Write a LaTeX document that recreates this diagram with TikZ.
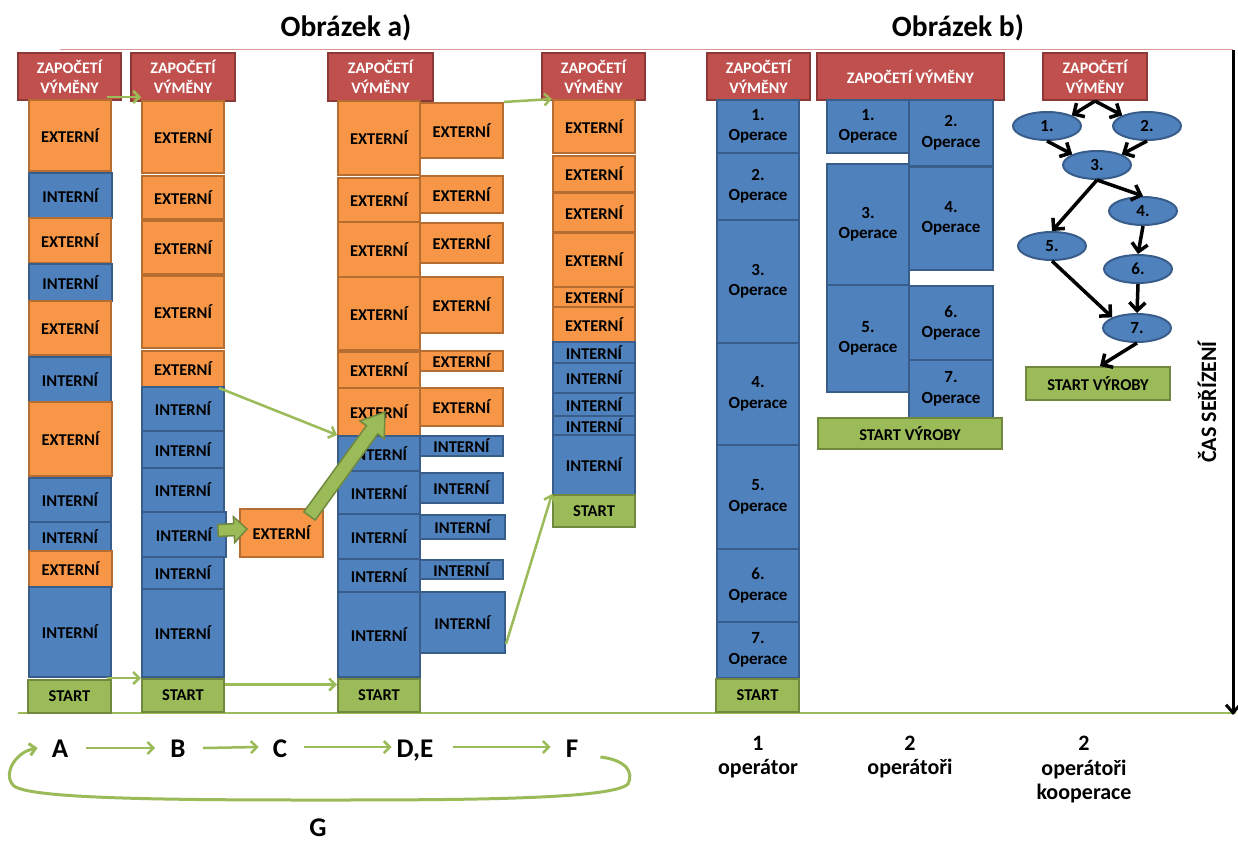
\documentclass[tikz,border=0pt]{standalone}
\usepackage{fontspec}
\setmainfont{Carlito}
\usetikzlibrary{arrows.meta,shapes.geometric,calc}
\definecolor{orgF}{HTML}{F79646}
\definecolor{orgD}{HTML}{B66D31}
\definecolor{bluF}{HTML}{4F81BD}
\definecolor{bluD}{HTML}{385D8A}
\definecolor{redF}{HTML}{C0504D}
\definecolor{redD}{HTML}{8C3836}
\definecolor{grnF}{HTML}{9BBB59}
\definecolor{grnD}{HTML}{71893F}
\definecolor{redL}{HTML}{D99694}
\newcommand\lbf{\fontsize{16.5}{19}\selectfont\bfseries}
\newcommand\rbf{\fontsize{16}{20}\selectfont\bfseries}
\newcommand\obf{\fontsize{17}{20.5}\selectfont\bfseries}
\newcommand\bx[7]{\node[#2,minimum width={(#5)-(#3)},minimum height={(#6)-(#4)}] (#1) at ({((#3)+(#5))/2},{((#4)+(#6))/2}) {#7};}
\newcommand\blockarr[5]{%
  \coordinate (tmpH) at ($(#2)!#5!(#1)$);
  \path[blockarrow] ($(#1)!#3!90:(#2)$) -- ($(tmpH)!#3!90:(#2)$) -- ($(tmpH)!#4!90:(#2)$) -- (#2) -- ($(tmpH)!#4!-90:(#2)$) -- ($(tmpH)!#3!-90:(#2)$) -- ($(#1)!#3!-90:(#2)$) -- cycle;}
\begin{document}
\begin{tikzpicture}[x=1pt,y=-1pt,
 basebox/.style={rectangle,inner sep=0pt,line width=2pt,align=center,font=\lbf},
 extb/.style={basebox,fill=orgF,draw=orgD},
 intb/.style={basebox,fill=bluF,draw=bluD},
 redb/.style={basebox,fill=redF,draw=redD,text=white,font=\rbf},
 grnb/.style={basebox,fill=grnF,draw=grnD},
 opb/.style={basebox,fill=bluF,draw=bluD,font=\obf},
 ellb/.style={ellipse,fill=bluF,draw=bluD,line width=2pt,minimum width=68pt,minimum height=28pt,inner sep=0pt,font=\obf},
 garrow/.style={draw=grnF,line width=2.5pt,-{Straight Barb[length=6pt,width=12pt]}},
 karrow/.style={draw=black,line width=3.5pt,-{Straight Barb[length=8pt,width=16pt]}},
 blockarrow/.style={fill=grnF,draw=grnD,line width=1.5pt,line join=miter},
 lbl/.style={inner sep=0pt,anchor=base,font=\fontsize{27}{30}\selectfont\bfseries},
 olbl/.style={inner sep=0pt,align=center,font=\fontsize{22}{24.5}\selectfont\bfseries},
 ttl/.style={inner sep=0pt,font=\fontsize{29.5}{32}\selectfont\bfseries}
]
\useasboundingbox (0,0) rectangle (1238,843);
% frame lines
\coordinate (tl) at (60,50);
\coordinate (tr) at (1233,50);
\coordinate (bl) at (18,713);
\coordinate (br) at (1236,713);
\draw[redL,line width=1pt] (tl) -- (tr);
\draw[grnF,line width=1.5pt] (bl) -- (br);
% titles
\node[ttl] (ta) at (346,28) {Obrázek a)};
\node[ttl] (tb) at (958,28) {Obrázek b)};
% column A
\bx{a0}{redb}{18}{53}{121}{100}{ZAPOČETÍ\\VÝMĚNY}
\bx{a1}{extb}{29}{100}{111}{171}{EXTERNÍ}
\bx{a2}{intb}{29}{173}{112}{218}{INTERNÍ}
\bx{a3}{extb}{29}{218}{111}{263}{EXTERNÍ}
\bx{a4}{intb}{29}{264}{112}{301}{INTERNÍ}
\bx{a5}{extb}{29}{301}{111}{355}{EXTERNÍ}
\bx{a6}{intb}{29}{357}{111}{402}{INTERNÍ}
\bx{a7}{extb}{29}{402}{112}{476}{EXTERNÍ}
\bx{a8}{intb}{29}{478}{111}{522}{INTERNÍ}
\bx{a9}{intb}{29}{522}{111}{551}{INTERNÍ}
\bx{a10}{extb}{29}{551}{112}{587}{EXTERNÍ}
\bx{a11}{intb}{29}{587}{111}{677}{INTERNÍ}
\bx{a12}{grnb}{28}{680}{111}{713}{START}
% column B
\bx{b0}{redb}{131}{53}{235}{101}{ZAPOČETÍ\\VÝMĚNY}
\bx{b1}{extb}{142}{101}{224}{173}{EXTERNÍ}
\bx{b2}{extb}{142}{176}{224}{219}{EXTERNÍ}
\bx{b3}{extb}{142}{221}{224}{274}{EXTERNÍ}
\bx{b4}{extb}{142}{276}{224}{348}{EXTERNÍ}
\bx{b5}{extb}{142}{351}{224}{387}{EXTERNÍ}
\bx{b6}{intb}{142}{387}{224}{431}{INTERNÍ}
\bx{b7}{intb}{142}{431}{224}{468}{INTERNÍ}
\bx{b8}{intb}{142}{468}{224}{512}{INTERNÍ}
\bx{b9}{intb}{142}{512}{226}{557}{INTERNÍ}
\bx{b10}{intb}{142}{557}{224}{589}{INTERNÍ}
\bx{b11}{intb}{142}{589}{224}{677}{INTERNÍ}
\bx{b12}{grnb}{142}{679}{224}{712}{START}
% column C
\bx{c1}{extb}{240}{509}{323}{557}{EXTERNÍ}
% column D left
\bx{d0}{redb}{328}{53}{433}{101}{ZAPOČETÍ\\VÝMĚNY}
\bx{d1}{extb}{338}{101}{420}{175}{EXTERNÍ}
\bx{d2}{extb}{338}{178}{420}{222}{EXTERNÍ}
\bx{d3}{extb}{338}{222}{420}{277}{EXTERNÍ}
\bx{d4}{extb}{338}{277}{420}{350}{EXTERNÍ}
\bx{d5}{extb}{338}{352}{420}{388}{EXTERNÍ}
\bx{d6}{extb}{338}{388}{420}{436}{EXTERNÍ}
\bx{d7}{intb}{338}{436}{420}{471}{INTERNÍ}
\bx{d8}{intb}{338}{471}{420}{514}{INTERNÍ}
\bx{d9}{intb}{338}{514}{420}{559}{INTERNÍ}
\bx{d10}{intb}{338}{559}{420}{592}{INTERNÍ}
\bx{d11}{intb}{338}{592}{420}{677}{INTERNÍ}
\bx{d12}{grnb}{338}{679}{420}{712}{START}
% column D right
\bx{e1}{extb}{420}{103}{503}{158}{EXTERNÍ}
\bx{e2}{extb}{420}{176}{503}{213}{EXTERNÍ}
\bx{e3}{extb}{420}{223}{503}{263}{EXTERNÍ}
\bx{e4}{extb}{420}{277}{503}{333}{EXTERNÍ}
\bx{e5}{extb}{420}{351}{503}{371}{EXTERNÍ}
\bx{e6}{extb}{420}{388}{503}{426}{EXTERNÍ}
\bx{e7}{intb}{420}{436}{503}{456}{INTERNÍ}
\bx{e8}{intb}{420}{473}{503}{503}{INTERNÍ}
\bx{e9}{intb}{420}{515}{505}{539}{INTERNÍ}
\bx{e10}{intb}{420}{560}{503}{579}{INTERNÍ}
\bx{e11}{intb}{420}{592}{505}{653}{INTERNÍ}
% column F
\bx{f0}{redb}{542}{53}{645}{100}{ZAPOČETÍ\\VÝMĚNY}
\bx{f1}{extb}{553}{100}{635}{153}{EXTERNÍ}
\bx{f2}{extb}{553}{156}{635}{192}{EXTERNÍ}
\bx{f3}{extb}{553}{193}{635}{232}{EXTERNÍ}
\bx{f4}{extb}{553}{233}{635}{287}{EXTERNÍ}
\bx{f5}{extb}{553}{287}{635}{307}{EXTERNÍ}
\bx{f6}{extb}{553}{307}{635}{342}{EXTERNÍ}
\bx{f7}{intb}{553}{342}{635}{363}{INTERNÍ}
\bx{f8}{intb}{553}{363}{635}{393}{INTERNÍ}
\bx{f9}{intb}{553}{393}{635}{416}{INTERNÍ}
\bx{f10}{intb}{553}{416}{635}{435}{INTERNÍ}
\bx{f11}{intb}{553}{435}{635}{495}{INTERNÍ}
\bx{f12}{grnb}{553}{495}{635}{527}{START}
% panel b, 1 operator
\bx{p0}{redb}{707}{53}{810}{100}{ZAPOČETÍ\\VÝMĚNY}
\bx{p1}{opb}{717}{100}{799}{153}{1.\\Operace}
\bx{p2}{opb}{717}{153}{799}{220}{2.\\Operace}
\bx{p3}{opb}{717}{220}{799}{343}{3.\\Operace}
\bx{p4}{opb}{717}{343}{799}{445}{4.\\Operace}
\bx{p5}{opb}{717}{445}{799}{549}{5.\\Operace}
\bx{p6}{opb}{717}{549}{799}{622}{6.\\Operace}
\bx{p7}{opb}{717}{622}{799}{678}{7.\\Operace}
\bx{p8}{grnb}{716}{679}{799}{712}{START}
% panel b, 2 operators
\bx{q0}{redb}{817}{53}{1004}{100}{ZAPOČETÍ VÝMĚNY}
\bx{q1}{opb}{827}{100}{909}{153}{1.\\Operace}
\bx{q2}{opb}{909}{100}{993}{166}{2.\\Operace}
\bx{q3}{opb}{827}{164}{909}{285}{3.\\Operace}
\bx{q4}{opb}{909}{167}{993}{270}{4.\\Operace}
\bx{q5}{opb}{827}{285}{909}{392}{5.\\Operace}
\bx{q6}{opb}{909}{286}{993}{360}{6.\\Operace}
\bx{q7}{opb}{909}{360}{993}{418}{7.\\Operace}
\bx{q8}{grnb}{818}{418}{1002}{449}{START VÝROBY}
% panel b, cooperation graph
\bx{r0}{redb}{1043}{53}{1147}{100}{ZAPOČETÍ\\VÝMĚNY}
\node[ellb] (o1) at (1047,126) {1.};
\node[ellb] (o2) at (1147,126) {2.};
\node[ellb] (o3) at (1097,165) {3.};
\node[ellb] (o4) at (1143,211) {4.};
\node[ellb] (o5) at (1052,246) {5.};
\node[ellb] (o6) at (1138,269) {6.};
\node[ellb] (o7) at (1137,328) {7.};
\bx{r8}{grnb}{1026}{367}{1170}{400}{START VÝROBY}
\draw[karrow] (r0.south) -- (o1.north east);
\draw[karrow] (r0.south) -- (o2.north west);
\draw[karrow] (o1.south) -- (o3.north west);
\draw[karrow] (o2.south) -- (o3.north east);
\draw[karrow] (o3.south) -- (o5.north);
\draw[karrow] (o3.south) -- (o4.north);
\draw[karrow] (o4.south) -- (o6.north);
\draw[karrow] (o5.south) -- (o7.north west);
\draw[karrow] (o6.south) -- (o7.north);
\draw[karrow] (o7.south) -- ([xshift=2pt]r8.north);
% thin green arrows
\draw[garrow] ([xshift=-5pt,yshift=2pt]a1.north east) -- ([yshift=3pt]b1.north west);
\draw[garrow] ([xshift=-5pt]a11.south east) -- (b11.south west);
\draw[garrow] ([yshift=11pt]b12.east) -- ([yshift=11pt]d12.west);
\draw[garrow] ([xshift=-6pt]b5.south east) -- (d7.north west);
\draw[garrow] (e1.north east) -- (f1.north west);
\draw[garrow] ([yshift=10pt]e11.south east) -- (f12.north west);
% block arrows
\coordinate (k1s) at ([xshift=-9pt,yshift=4pt]b9.east);
\coordinate (k1e) at ([xshift=8pt,yshift=4pt]c1.west);
\blockarr{k1s}{k1e}{6pt}{13pt}{13pt}
\coordinate (k2s) at ([xshift=28pt,yshift=-8pt]c1.north);
\coordinate (k2e) at ([xshift=6pt]d6.center);
\blockarr{k2s}{k2e}{7pt}{15pt}{22pt}
% time axis
\coordinate (ax1) at (1233,50);
\coordinate (ax2) at (1233,715);
\draw[black,line width=3pt,-{Straight Barb[length=8pt,width=14pt]}] (ax1) -- (ax2);
\node[rotate=90,inner sep=0pt,font=\fontsize{22}{24}\selectfont\bfseries] (cas) at (1207,402) {ČAS SEŘÍZENÍ};
% bottom sequence
\node[lbl] (LA) at (60,757) {A};
\node[lbl] (LB) at (178,757) {B};
\node[lbl] (LC) at (280,757) {C};
\node[lbl] (LD) at (415,757) {D,E};
\node[lbl] (LF) at (572,757) {F};
\node[lbl] (LG) at (318,836) {G};
\draw[garrow] ([xshift=18pt,yshift=9pt]LA.base east) -- ([xshift=-15pt,yshift=9pt]LB.base west);
\draw[garrow] ([xshift=17pt,yshift=9pt]LB.base east) -- ([xshift=-14pt,yshift=10pt]LC.base west);
\draw[garrow] ([xshift=17pt,yshift=10pt]LC.base east) -- ([xshift=-5pt,yshift=10pt]LD.base west);
\draw[garrow] ([xshift=20pt,yshift=10pt]LD.base east) -- ([xshift=-15pt,yshift=10pt]LF.base west);
\draw[draw=grnF,line width=3pt,-{Straight Barb[length=6pt,width=12pt]}]
  ([xshift=22pt]LF.base east) .. controls (626,760) and (634,772) .. (628,784)
  .. controls (612,800) and (450,800) .. (312,800)
  .. controls (150,800) and (30,798) .. (14,786)
  .. controls (2,775) and (15,752) .. ([xshift=-14pt,yshift=9pt]LA.base west);
% operator labels
\node[olbl] (w1) at (758,757) {1\\operátor};
\node[olbl] (w2) at (910,757) {2\\operátoři};
\node[olbl] (w3) at (1084,770) {2\\operátoři\\kooperace};
\end{tikzpicture}
\end{document}
